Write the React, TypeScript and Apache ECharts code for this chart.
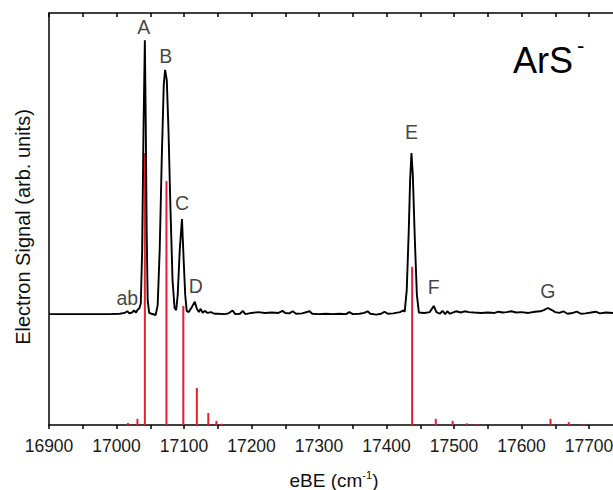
import React, { useEffect, useRef } from "react";
import * as echarts from "echarts";

// Experimental photoelectron spectrum (eBE in cm^-1, signal in arb. units)
const spectrumX: number[] = [
  16900, 16990, 17005, 17012, 17016, 17019, 17023, 17026, 17029, 17031, 17034,
  17036, 17038, 17040, 17042, 17043.3, 17044.7, 17046.2, 17048.4, 17052, 17058,
  17061, 17064, 17067, 17070, 17072, 17074.5, 17077, 17080, 17083, 17086, 17088.4,
  17090.7, 17093.7, 17097, 17099.5, 17101.8, 17104,
  17107, 17111.5, 17116, 17119, 17122, 17124.7, 17127.7, 17130.7, 17135, 17140, 17145,
  17150, 17160, 17166, 17172, 17176, 17183, 17187, 17191, 17200, 17210, 17220, 17230,
  17240, 17246, 17250, 17256, 17261, 17266, 17275, 17286, 17290, 17300, 17310, 17320,
  17330, 17340, 17345, 17350, 17360, 17367, 17372, 17376, 17385, 17392, 17397, 17402,
  17410, 17420, 17425,
  17427, 17430, 17433, 17435, 17437, 17439, 17442, 17445, 17448,
  17456, 17464, 17470, 17474, 17479, 17483, 17487, 17490, 17494, 17498, 17503, 17510,
  17516, 17522, 17530, 17540, 17550, 17560, 17566, 17572, 17578, 17585, 17592, 17600,
  17610, 17620, 17628, 17633, 17639, 17645, 17650, 17656, 17662, 17668, 17676, 17682,
  17688, 17695, 17703, 17710, 17716, 17725, 17735, 17745, 17760, 17780,
];
const spectrumY: number[] = [
  26.9, 26.9, 27.0, 27.2, 27.6, 27.1, 27.3, 27.8, 27.3, 27.9, 28.4,
  29.5, 42.5, 71.6, 93.4, 74, 47.3, 30.3, 27.2, 27.0, 26.7,
  29.1, 42.5, 64.3, 82.5, 86.2, 83.7, 71.6, 52.2, 35.2, 28.4, 27.9,
  31.6, 42.5, 50.0, 40.0, 31.6, 27.7,
  27.4, 28.6, 29.9, 28.2, 27.4, 28.2, 27.2, 27.7, 27.2, 27.4, 27.0,
  27.0, 26.9, 27.1, 27.8, 26.9, 27.0, 27.7, 26.9, 27.2, 27.4, 27.2, 27.3,
  27.2, 27.7, 27.2, 27.1, 27.6, 27.0, 27.1, 27.6, 27.0, 26.9, 27.0, 26.9,
  27.0, 26.9, 27.4, 26.9, 27.0, 27.2, 27.6, 27.0, 26.8, 27.0, 27.5, 27.0,
  27.1, 27.4, 27.8,
  27.5, 32.8, 47.3, 59.5, 66.0, 60.7, 44.9, 31.6, 27.3,
  27.2, 27.4, 28.9, 27.4, 27.0, 27.7, 26.9, 27.6, 27.0, 27.3, 27.6, 27.3,
  27.6, 27.4, 27.3, 27.2, 27.3, 27.2, 27.5, 27.3, 27.4, 27.6, 27.3, 27.4,
  27.2, 27.5, 27.6, 27.9, 28.4, 27.9, 27.4, 27.2, 27.6, 27.0, 27.2, 27.5,
  27.0, 27.1, 27.3, 27.5, 27.1, 27.3, 27.2, 27.3, 27.2, 27.3,
];

// Simulated stick spectrum (Franck-Condon intensities)
const stickX: number[] = [
  17017, 17031, 17042, 17074, 17099, 17119, 17136, 17148, 17156,
  17438, 17473, 17498, 17519, 17534, 17643, 17670, 17692,
];
const stickY: number[] = [
  0.5, 1.5, 66.0, 59.2, 28.9, 9.0, 2.9, 1.0, 0.3,
  38.4, 1.5, 1.0, 0.4, 0.2, 1.5, 0.7, 0.2,
];

// Peak labels
const peakNames: string[] = ["ab", "A", "B", "C", "D", "E", "F", "G"];
const peakLabelX: number[] = [17016, 17040.5, 17073, 17097, 17117.5, 17437, 17470, 17639];
const peakLabelY: number[] = [30.8, 96.6, 89.5, 53.8, 33.8, 71.2, 33.4, 32.6];

const xMin = 16900;
const xMax = 17800;
const xStep = 50;
const lastLabel = 17700;

const FONT = "'Liberation Sans', Arial, sans-serif";

export default function App() {
  const ref = useRef<HTMLDivElement>(null);
  useEffect(() => {
    if (!ref.current) return;
    const chart = echarts.init(ref.current, undefined, { renderer: "svg" });
    const lineData = spectrumX.map((x, i) => [x, spectrumY[i]]);
    const stickData = stickX.map((x, i) => [x, stickY[i]]);
    const labelData = peakNames.map((n, i) => ({ value: [peakLabelX[i], peakLabelY[i]], name: n }));
    const axisCommon = {
      type: "value" as const,
      min: xMin,
      max: xMax,
      interval: xStep,
      splitLine: { show: false },
      axisLine: { show: true, onZero: false, lineStyle: { color: "#000", width: 1.5 } },
    };
    chart.setOption({
      animation: false,
      backgroundColor: "#fff",
      grid: {
        left: 49,
        top: 13,
        bottom: 65,
        right: 3.5,
        containLabel: false,
        outerBoundsMode: "none",
      },
      xAxis: [
        {
          ...axisCommon,
          position: "bottom",
          axisTick: { show: true, inside: false, length: 4, lineStyle: { color: "#000", width: 1.5 } },
          axisLabel: {
            show: true,
            margin: 12,
            color: "#1a1a1a",
            fontSize: 17.5,
            fontFamily: FONT,
            formatter: (v: number) => (v % 100 === 0 && v <= lastLabel ? String(v) : ""),
          },
        },
        {
          ...axisCommon,
          position: "top",
          axisTick: { show: true, inside: true, length: 4, lineStyle: { color: "#000", width: 1.5 } },
          axisLabel: { show: false },
        },
      ],
      yAxis: {
        type: "value",
        min: 0,
        max: 100,
        axisLine: { show: true, lineStyle: { color: "#000", width: 1.5 } },
        axisTick: { show: false },
        axisLabel: { show: false },
        splitLine: { show: false },
      },
      series: [
        {
          type: "bar",
          xAxisIndex: 0,
          data: stickData,
          barWidth: 2,
          itemStyle: { color: "#e3202b" },
          z: 2,
        },
        {
          type: "line",
          xAxisIndex: 0,
          data: lineData,
          showSymbol: false,
          symbol: "none",
          lineStyle: { color: "#000", width: 1.9 },
          z: 3,
        },
        {
          type: "scatter",
          xAxisIndex: 0,
          data: labelData,
          symbolSize: 1,
          itemStyle: { color: "rgba(0,0,0,0)" },
          label: {
            show: true,
            position: "inside",
            formatter: (p: any) => p.name,
            color: "#111",
            fontSize: 19.5,
            fontFamily: FONT,
          },
          z: 4,
        },
      ],
      graphic: [
        {
          type: "text",
          rotation: Math.PI / 2,
          x: 23,
          y: 227,
          style: {
            text: "Electron Signal (arb. units)",
            fontSize: 20,
            fontFamily: FONT,
            fill: "#111",
            align: "center",
            verticalAlign: "middle",
          },
        },
        {
          type: "text",
          x: 334,
          y: 480,
          style: {
            text: "{a|eBE (cm}{s|-1}{a|)}",
            align: "center",
            verticalAlign: "middle",
            rich: {
              a: { fontSize: 19, fontFamily: FONT, fill: "#111", lineHeight: 22 },
              s: { fontSize: 11, fontFamily: FONT, fill: "#111", verticalAlign: "top", lineHeight: 22, padding: [0, 0, 10, 0] },
            },
          },
        },
        {
          type: "text",
          x: 513,
          y: 60,
          style: {
            text: "ArS",
            fontSize: 36,
            fontFamily: FONT,
            fill: "#000",
            align: "left",
            verticalAlign: "middle",
          },
        },
        {
          type: "text",
          x: 577,
          y: 45,
          style: {
            text: "-",
            fontSize: 22,
            fontFamily: FONT,
            fill: "#000",
            align: "left",
            verticalAlign: "middle",
          },
        },
      ],
    });
    return () => chart.dispose();
  }, []);
  return (
    <div style={{ position: "absolute", left: 0, top: 0, width: 613, height: 490, overflow: "hidden" }}>
      <div ref={ref} style={{ position: "absolute", left: 0, top: 0, width: 660, height: 490 }} />
    </div>
  );
}
